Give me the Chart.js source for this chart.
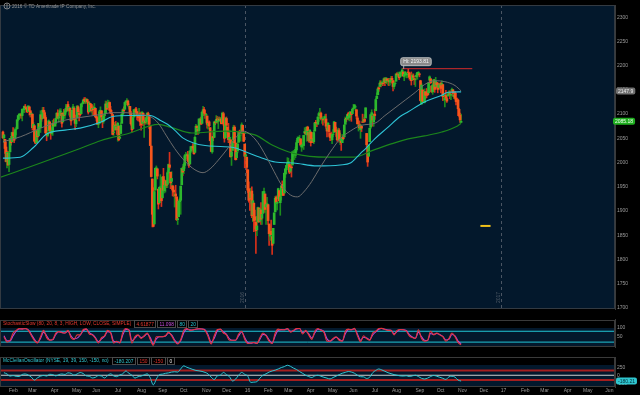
<!DOCTYPE html>
<html><head><meta charset="utf-8">
<script src="https://cdn.jsdelivr.net/npm/chart.js@4.4.0/dist/chart.umd.min.js"></script>
<style>
html,body{margin:0;padding:0;background:#000;width:640px;height:395px;overflow:hidden}
canvas{position:absolute;left:0;display:block}
</style></head><body>
<canvas id="main" width="640" height="314" style="top:0px"></canvas>
<canvas id="stoch" width="640" height="38" style="top:314px"></canvas>
<canvas id="mcc" width="640" height="43" style="top:352px"></canvas>
<script>
// ---------- DATA ----------
// daily bars, bar index 0 = first session of Feb 2015 (first bar shown = Jan 23 2015)
const firstBar = -6;
const opens = [
2063,2051,2048,2032,2002,2019,
1996,2022,2048,2043,2062,2053,2049,2068,2070,2089,2097,2100,2099,2097,2110,2109,2115,2113,2110,
2105,2115,2107,2100,2100,2072,2076,2045,2041,2065,2055,2080,2072,2098,2091,2108,2103,2093,2060,2056,2065,2084,
2067,2060,2064,2081,2076,2081,2091,2102,2092,2097,2105,2102,2084,2102,2098,2105,2113,2120,2108,2112,2105,
2088,2110,2112,2091,2080,2092,2115,2102,2100,2101,2122,2122,2130,2128,2125,2130,2125,2105,2122,2120,
2109,2111,2111,2112,2095,2092,2079,2081,2106,2107,2092,2085,2097,2101,2121,2113,2124,2124,2109,2103,2099,2062,
2067,2078,2073,2069,2075,2050,2060,2081,2100,2109,2110,2124,2127,2127,2115,2116,2102,2079,2070,2094,2108,2111,
2105,2097,2096,2101,2083,2081,2102,2082,2086,2084,2090,2101,2095,2076,2034,1966,1898,1873,1943,1986,1987,
1945,1917,1951,1947,1927,1971,1942,1951,1963,1955,1979,1995,1980,1961,1952,1943,1932,1935,1929,1882,1888,
1919,1922,1954,1986,1983,1994,2014,2015,2016,2003,1997,2024,2031,2033,2034,2021,2058,2075,2069,2066,2088,2090,
2081,2102,2110,2101,2098,2096,2077,2084,2072,2045,2022,2054,2052,2084,2083,2090,2085,2089,2089,2090,
2083,2101,2081,2051,2091,2073,2061,2048,2047,2013,2025,2047,2073,2040,2010,2024,2042,2063,2057,2060,2077,2060,
2038,2013,2011,1985,1946,1926,1927,1941,1892,1916,1888,1877,1861,1877,1906,1879,1902,1885,1895,
1936,1935,1908,1911,1913,1873,1848,1858,1847,1833,1872,1898,1928,1916,1925,1942,1917,1932,1955,1946,
1937,1976,1985,1994,1996,1996,1982,1991,1995,2020,2016,2015,2026,2041,2048,2049,2049,2032,2037,2035,2061,2063,
2057,2073,2062,2045,2063,2045,2050,2043,2065,2083,2083,2079,2097,2101,2102,2091,2089,2090,2092,2090,2071,
2067,2077,2060,2053,2047,2058,2062,2083,2067,2063,2048,2066,2045,2044,2041,2052,2053,2079,2091,2090,2101,
2093,2097,2104,2101,2111,2113,2115,2109,2092,2076,2078,2068,2075,2084,2085,2089,2092,2060,2031,2013,2043,2073,
2099,2096,2084,2100,2107,2132,2140,2154,2157,2165,2162,2164,2166,2173,2166,2173,2169,2170,2166,2169,
2174,2169,2157,2163,2168,2183,2182,2182,2177,2183,2186,2187,2178,2181,2184,2181,2187,2185,2175,2175,2171,2179,2173,
2171,2177,2181,2185,2183,2169,2121,2150,2128,2124,2146,2143,2146,2144,2170,2173,2158,2146,2161,2168,2157,
2165,2163,2155,2158,2164,2160,2161,2138,2130,2139,2132,2138,2140,2142,2139,2149,2150,2136,2144,2133,2129,
2129,2110,2098,2083];
const highs = [
2065,2058,2048,2042,2024,2023,
2022,2050,2054,2063,2072,2057,2071,2073,2089,2097,2101,2101,2102,2111,2111,2117,2120,2115,2112,
2117,2115,2107,2104,2100,2083,2076,2051,2066,2067,2081,2080,2107,2099,2114,2114,2107,2097,2067,2063,2088,2084,
2067,2072,2087,2090,2086,2092,2103,2109,2098,2111,2111,2102,2103,2110,2109,2120,2120,2126,2116,2113,2105,
2108,2120,2115,2098,2092,2118,2117,2105,2111,2121,2124,2131,2134,2134,2132,2131,2125,2126,2122,2120,
2117,2117,2122,2112,2100,2094,2085,2108,2115,2107,2092,2097,2106,2127,2126,2129,2128,2125,2116,2108,2099,2074,
2083,2085,2078,2083,2075,2075,2082,2100,2111,2115,2124,2127,2132,2129,2121,2116,2106,2079,2095,2110,2111,2114,
2105,2102,2112,2104,2083,2105,2102,2090,2094,2093,2103,2104,2095,2076,2034,1966,1948,1943,1989,1993,1987,
1945,1949,1975,1947,1970,1988,1965,1961,1963,1983,1997,2021,1980,1981,1952,1950,1938,1953,1929,1900,1920,
1927,1952,1989,1991,1999,2017,2021,2019,2023,2009,2024,2033,2034,2039,2038,2055,2079,2076,2070,2090,2092,2094,
2105,2116,2114,2108,2101,2096,2083,2086,2072,2045,2053,2066,2084,2086,2097,2095,2094,2094,2093,2093,
2104,2104,2085,2093,2094,2073,2081,2067,2047,2023,2053,2077,2076,2040,2022,2042,2065,2067,2057,2082,2077,2062,
2038,2021,2011,1985,1960,1935,1947,1950,1935,1916,1902,1877,1889,1908,1906,1906,1917,1902,1940,
1947,1935,1918,1928,1913,1873,1869,1881,1847,1864,1896,1930,1931,1919,1947,1942,1933,1952,1962,1957,
1978,1987,1993,2010,2009,1996,1992,2006,2022,2025,2019,2032,2046,2053,2053,2056,2049,2036,2041,2056,2072,2068,
2074,2075,2062,2068,2063,2060,2062,2066,2083,2087,2083,2095,2104,2112,2104,2095,2089,2095,2099,2100,2074,
2083,2077,2060,2063,2058,2068,2085,2083,2073,2067,2071,2070,2061,2044,2058,2056,2079,2094,2092,2100,2104,
2100,2105,2104,2113,2120,2120,2117,2109,2096,2082,2086,2079,2075,2100,2093,2099,2113,2060,2031,2036,2071,2099,
2109,2096,2100,2110,2132,2144,2156,2156,2169,2169,2168,2164,2175,2175,2175,2173,2174,2174,2172,2178,
2178,2170,2164,2169,2183,2186,2187,2183,2188,2186,2194,2187,2183,2188,2185,2185,2193,2186,2179,2187,2183,2183,2174,
2173,2184,2186,2188,2184,2170,2164,2150,2141,2152,2146,2153,2150,2166,2179,2173,2159,2161,2172,2172,2176,
2166,2165,2164,2163,2165,2169,2161,2144,2138,2149,2135,2145,2148,2148,2142,2154,2151,2146,2147,2143,2133,
2131,2112,2102,2100];
const lows = [
2050,2041,2019,2001,1989,1994,
1981,2022,2036,2043,2049,2041,2049,2057,2070,2086,2089,2093,2091,2086,2104,2103,2110,2104,2103,
2105,2098,2094,2095,2067,2071,2044,2039,2041,2042,2055,2067,2062,2085,2091,2104,2091,2061,2045,2053,2065,2067,
2048,2057,2056,2076,2074,2075,2089,2092,2083,2097,2101,2073,2084,2095,2091,2102,2112,2106,2098,2094,2077,
2088,2110,2088,2068,2074,2092,2104,2086,2096,2101,2115,2121,2125,2122,2122,2125,2100,2105,2113,2104,
2099,2098,2109,2093,2086,2079,2072,2081,2106,2093,2072,2081,2087,2101,2109,2113,2119,2108,2102,2097,2057,2056,
2067,2071,2058,2044,2045,2050,2060,2081,2099,2102,2110,2119,2123,2117,2110,2098,2077,2063,2069,2094,2095,2102,
2088,2086,2095,2076,2067,2081,2076,2052,2079,2080,2079,2094,2070,2035,1970,1867,1867,1873,1943,1975,1966,
1904,1917,1945,1909,1927,1941,1937,1939,1948,1948,1977,1986,1946,1951,1931,1930,1908,1926,1880,1872,1888,
1900,1893,1954,1973,1977,1988,2008,2013,2002,1990,1997,2021,2022,2026,2017,2021,2058,2069,2058,2060,2082,2079,
2081,2097,2097,2091,2083,2071,2069,2074,2045,2022,2019,2045,2052,2078,2083,2081,2070,2086,2086,2080,
2083,2077,2042,2051,2071,2052,2041,2044,2011,1994,2025,2041,2041,2005,2006,2020,2042,2059,2044,2060,2061,2043,
1989,2005,1979,1938,1918,1901,1915,1886,1878,1857,1864,1812,1849,1877,1876,1879,1872,1872,1895,
1920,1897,1872,1903,1872,1829,1839,1850,1810,1833,1872,1898,1915,1902,1925,1920,1891,1922,1946,1932,
1937,1969,1977,1990,1989,1977,1979,1970,1995,2012,2006,2010,2022,2041,2043,2045,2034,2023,2030,2027,2058,2058,
2044,2060,2042,2043,2034,2041,2041,2039,2065,2078,2074,2079,2085,2091,2088,2081,2077,2085,2082,2071,2053,
2064,2054,2045,2045,2039,2053,2062,2064,2054,2044,2048,2042,2037,2025,2041,2047,2053,2079,2084,2089,2088,
2086,2088,2085,2101,2110,2112,2107,2090,2079,2065,2070,2050,2064,2083,2083,2083,2092,2032,1992,2013,2043,2070,
2099,2075,2075,2089,2107,2132,2140,2147,2157,2156,2159,2159,2166,2159,2163,2164,2160,2159,2160,2165,
2164,2148,2152,2160,2168,2178,2180,2171,2177,2179,2186,2178,2169,2180,2175,2175,2186,2172,2169,2160,2170,2171,2161,
2157,2173,2172,2179,2177,2127,2120,2125,2124,2123,2132,2134,2138,2140,2170,2163,2145,2141,2151,2145,2157,
2154,2144,2154,2150,2144,2160,2128,2128,2115,2132,2124,2136,2138,2132,2130,2146,2137,2132,2131,2119,2125,
2097,2094,2083,2083];
const closes = [
2051,2057,2029,2002,2021,1995,
2020,2050,2041,2062,2055,2046,2068,2068,2088,2097,2100,2100,2097,2110,2110,2116,2114,2111,2105,
2117,2108,2099,2101,2072,2079,2044,2040,2066,2053,2081,2075,2099,2090,2108,2104,2092,2061,2057,2061,2086,2068,
2060,2066,2081,2076,2082,2091,2102,2092,2095,2107,2105,2081,2100,2097,2107,2112,2117,2108,2114,2106,2086,
2108,2115,2089,2081,2088,2116,2105,2099,2099,2121,2122,2129,2128,2126,2131,2126,2104,2123,2120,2107,
2112,2109,2114,2095,2092,2079,2080,2105,2108,2094,2084,2096,2100,2121,2110,2123,2124,2108,2102,2101,2058,2063,
2077,2077,2068,2081,2047,2052,2077,2100,2109,2107,2124,2127,2128,2119,2115,2102,2080,2068,2093,2109,2109,2104,
2098,2093,2100,2084,2078,2104,2084,2086,2083,2092,2102,2097,2079,2035,1971,1893,1868,1940,1988,1989,1972,
1914,1949,1951,1921,1970,1943,1953,1961,1953,1979,1996,1990,1958,1967,1943,1939,1932,1931,1882,1884,1920,
1923,1951,1988,1980,1996,2014,2015,2017,2004,1994,2024,2033,2033,2030,2018,2052,2075,2072,2066,2090,2089,2079,
2104,2109,2102,2100,2099,2079,2081,2076,2045,2023,2053,2051,2084,2082,2089,2087,2089,2088,2090,2080,
2102,2080,2050,2092,2077,2063,2047,2052,2012,2022,2043,2073,2041,2006,2021,2038,2064,2061,2057,2078,2063,2044,
2013,2016,1990,1943,1922,1924,1939,1890,1921,1880,1881,1859,1869,1907,1878,1904,1883,1893,1940,
1940,1903,1913,1915,1880,1853,1852,1851,1829,1864,1896,1926,1918,1918,1946,1921,1929,1952,1948,1932,
1978,1987,1994,1999,2002,1980,1990,1989,2022,2020,2016,2027,2041,2050,2052,2049,2036,2036,2037,2056,2064,2060,
2073,2066,2045,2067,2041,2048,2042,2062,2082,2082,2081,2094,2101,2102,2091,2092,2088,2091,2095,2075,2065,
2081,2064,2052,2051,2058,2059,2084,2064,2065,2047,2067,2047,2048,2041,2052,2049,2077,2090,2090,2099,2097,
2100,2105,2099,2110,2112,2119,2115,2096,2080,2076,2072,2077,2071,2083,2088,2085,2113,2037,2001,2036,2071,2099,
2103,2088,2100,2097,2130,2137,2152,2152,2164,2162,2166,2163,2173,2165,2175,2169,2169,2167,2170,2174,
2171,2157,2164,2164,2183,2181,2182,2175,2186,2184,2191,2179,2182,2187,2184,2182,2186,2176,2173,2169,2180,2176,2171,
2171,2180,2186,2186,2182,2128,2160,2127,2126,2147,2139,2139,2140,2164,2177,2165,2146,2160,2171,2151,2168,
2161,2151,2160,2161,2153,2163,2136,2139,2132,2133,2127,2140,2144,2141,2141,2151,2143,2139,2133,2126,2126,
2111,2097,2088,2085];

// moving averages (bar index, value)
const sma50Bars = [-6,11,31,50,70,90,102,114,129,139,147,155,163,173,183,191,198,206,216,223,230,237,245,253,261,269,277,284,290,298,306,316,326,336,347,360,370,380,390,400,409,419,429,439,445];
const sma50Vals = [2043,2053,2071,2085,2093,2099,2103,2103,2099,2095,2081,2055,2029,2003,1985,1979,1987,2005,2031,2051,2065,2059,2041,2013,1981,1951,1933,1929,1939,1961,1989,2021,2049,2065,2077,2081,2097,2113,2129,2145,2161,2169,2167,2159,2148];
const sma100Bars = [-6,11,24,37,55,70,90,102,119,139,149,156,163,171,181,193,208,221,234,247,262,280,303,326,336,346,352,360,372,385,393,409,426,432,445];
const sma100Vals = [2009,2011,2031,2059,2067,2071,2083,2095,2097,2097,2087,2079,2067,2051,2041,2035,2033,2031,2021,2011,2001,1999,1993,1995,1999,2019,2031,2049,2071,2095,2105,2125,2139,2145,2146];
const sma200Bars = [-9,31,70,90,119,147,159,180,213,242,260,280,313,339,358,377,393,409,426,441,445];
const sma200Vals = [1969,1999,2029,2045,2061,2079,2073,2061,2065,2057,2035,2019,2011,2011,2025,2039,2049,2055,2063,2075,2081];

const hiValue = 2193.81, hiBar = 387, hiEndBar = 456;
const lastClose = 2085.18, sma50Last = 2147.9;
const markerBars = [464, 474], markerValue = 1869;

const priceTicks = [1700,1750,1800,1850,1900,1950,2000,2050,2100,2150,2200,2250,2300];
const monthLabels = ['Feb','Mar','Apr','May','Jun','Jul','Aug','Sep','Oct','Nov','Dec','16','Feb','Mar','Apr','May','Jun','Jul','Aug','Sep','Oct','Nov','Dec','17','Feb','Mar','Apr','May','Jun'];
const monthStartBars = [0,19,41,62,82,104,126,147,168,190,210,232,251,271,293,314,335,357,377,400,421,442,463,484,504,523,546,565,587];
const yearStartBars = [232, 484];
const yearLabels = ['2016', '2017'];

// oscillators sampled every 3 bars starting at bar -5
const oscFirstBar = -5, oscStep = 3;
const stochK = [
50,20,30,70,85,95,92,95,85,55,
28,15,50,85,45,30,35,70,78,72,
70,85,45,35,60,60,90,93,65,60,
40,15,45,55,85,70,15,25,15,75,
95,85,15,50,60,40,55,70,35,3,
50,50,50,55,75,55,25,10,35,85,
95,85,88,92,94,92,85,50,10,55,
90,92,70,60,30,30,30,65,80,35,
12,15,18,12,45,70,55,25,12,70,
92,88,88,95,75,85,95,95,65,85,
60,35,80,95,85,75,25,25,40,50,
30,25,80,92,88,96,55,22,55,40,
30,70,80,95,96,90,85,85,60,85,
90,88,82,55,45,40,88,40,25,30,
80,60,70,60,50,25,40,70,50,18,
4.62];
const stochD = [
55,28,27,55,80,92,93,94,88,62,
35,18,40,75,55,32,33,62,77,74,
70,80,55,38,42,58,82,92,72,62,
45,22,38,52,78,74,25,22,18,60,
90,88,28,42,58,45,52,66,45,10,
38,50,50,54,70,60,32,14,28,72,
92,88,87,91,93,92,87,60,20,42,
82,91,76,63,38,30,30,55,76,45,
18,14,17,14,36,63,58,32,15,55,
86,89,88,93,80,83,92,95,72,80,
66,42,70,91,88,78,38,25,36,47,
36,26,66,89,89,94,64,30,47,43,
33,60,77,91,95,91,87,85,66,78,
88,88,84,62,48,41,75,50,30,29,
68,63,68,62,52,32,36,62,54,26,
11.1];
const mcclellan = [
80,40,-27,-10,-35,-40,25,40,5,-60,
-152,-80,-30,-5,-25,30,20,-20,20,40,
25,75,60,5,40,85,55,-20,-30,-85,
-65,-10,-25,-85,-10,45,-20,-45,10,45,
134,60,0,-89,-45,-27,10,45,-80,-300,
-120,20,35,60,75,100,110,100,200,295,
250,215,180,150,138,120,90,40,-60,-134,
-20,0,89,20,-45,-179,-120,0,89,30,
-30,-224,-215,-200,-89,0,45,100,134,160,
197,241,270,313,280,224,180,116,60,0,
-40,-72,-20,0,-30,-63,-90,-116,-70,-27,
20,63,90,116,100,63,0,-45,-50,-100,
-60,80,150,197,165,125,80,50,20,0,
-20,-25,-15,-40,-20,0,-40,-95,-116,-90,
-40,-5,-30,-63,-95,-130,-50,-30,-60,-150,
-180.21];
const stochLevels = [80, 20], stochTicks = [50, 100];
const stochLast = '4.61877', stochDLast = '11.098';
const mcLevels = [150, -150], mcTicks = [-250, 0, 250];
const mcLast = -180.207;

// ---------- STYLE / HELPERS ----------
const FONT = '"Liberation Sans", Arial, sans-serif';
const NAVY = '#03182c';
const AXIS_W = 25;
const X_MIN = -8.9, X_MAX = 596.5;

function roundRect(ctx, x, y, w, h, r) {
  ctx.beginPath();
  ctx.moveTo(x + r, y);
  ctx.arcTo(x + w, y, x + w, y + h, r);
  ctx.arcTo(x + w, y + h, x, y + h, r);
  ctx.arcTo(x, y + h, x, y, r);
  ctx.arcTo(x, y, x + w, y, r);
  ctx.closePath();
}
function tag(ctx, x, y, text, fill, color) {
  ctx.save();
  ctx.font = `5px ${FONT}`;
  const w = ctx.measureText(text).width + 4, h = 7;
  roundRect(ctx, x, y - h / 2, w, h, 2);
  ctx.fillStyle = fill; ctx.fill();
  ctx.fillStyle = color; ctx.textBaseline = 'middle'; ctx.textAlign = 'left';
  ctx.fillText(text, x + 2, y + 0.3);
  ctx.restore();
}
function yAxis(min, max, ticks) {
  return {
    position: 'right', min, max, bounds: 'data', beginAtZero: false,
    afterFit(s) { s.width = AXIS_W; },
    afterBuildTicks(s) { s.ticks = ticks.map(v => ({ value: v })); },
    ticks: { color: '#9c9c9c', font: { family: FONT, size: 5 }, padding: 2, autoSkip: false, callback: v => String(v) },
    grid: { display: false, drawTicks: false },
    border: { display: true, color: '#3a3a3a' }
  };
}
const xHidden = { type: 'linear', min: X_MIN, max: X_MAX, bounds: 'data', offset: false, display: false };
const base = {
  responsive: false, animation: false, devicePixelRatio: 1, events: [],
  layout: { padding: 0 },
  plugins: { legend: { display: false }, tooltip: { enabled: false } }
};
function pts(bars, vals) { return bars.map((b, i) => ({ x: b, y: vals[i] })); }
function oscPts(vals) { return vals.map((v, i) => ({ x: oscFirstBar + i * oscStep, y: v })); }
function lineDs(data, color, width, order) {
  return { type: 'line', data, borderColor: color, borderWidth: width, pointRadius: 0,
           cubicInterpolationMode: 'monotone', order: order || 1 };
}

// ---------- MAIN PRICE CHART ----------
const bars = closes.map((c, i) => firstBar + i);
const isUp = closes.map((c, i) => c >= opens[i]);

const mainDecor = {
  id: 'mainDecor',
  beforeDraw(chart) {
    const { ctx, chartArea: a, width, height } = chart;
    ctx.save();
    ctx.fillStyle = '#000'; ctx.fillRect(0, 0, width, height);
    ctx.fillStyle = NAVY; ctx.fillRect(a.left, a.top, a.right - a.left, a.bottom - a.top);
    ctx.restore();
  },
  beforeDatasetsDraw(chart) {
    const { ctx, chartArea: a, scales: { x } } = chart;
    yearStartBars.forEach((b, i) => {
      const px = Math.round(x.getPixelForValue(b)) + 0.5;
      ctx.save();
      ctx.strokeStyle = '#4a5563'; ctx.lineWidth = 1; ctx.setLineDash([3, 3]);
      ctx.beginPath(); ctx.moveTo(px, a.top); ctx.lineTo(px, a.bottom); ctx.stroke();
      ctx.setLineDash([]);
      ctx.translate(px - 3, a.bottom - 6); ctx.rotate(-Math.PI / 2);
      ctx.fillStyle = '#4f5a66'; ctx.font = `5px ${FONT}`; ctx.textAlign = 'left'; ctx.textBaseline = 'middle';
      ctx.fillText(yearLabels[i], 0, 0);
      ctx.restore();
    });
  },
  afterDraw(chart) {
    const { ctx, chartArea: a, scales: { x, y } } = chart;
    ctx.save();
    // panel border
    ctx.strokeStyle = '#333a42'; ctx.lineWidth = 1;
    ctx.strokeRect(a.left + 0.5, a.top + 0.5, a.right - a.left - 1, a.bottom - a.top - 1);
    // copyright
    ctx.strokeStyle = '#9a9a9a'; ctx.lineWidth = 0.8;
    ctx.beginPath(); ctx.arc(7, 6, 3, 0, Math.PI * 2); ctx.stroke();
    ctx.beginPath(); ctx.moveTo(7, 3.5); ctx.lineTo(7, 8.5); ctx.stroke();
    ctx.fillStyle = '#9a9a9a'; ctx.font = `4.7px ${FONT}`; ctx.textBaseline = 'middle'; ctx.textAlign = 'left';
    ctx.fillText('2016 \u00a9 TD Ameritrade IP Company, Inc.', 12, 6.3);
    // Hi label
    const hx = x.getPixelForValue(hiBar), hy = y.getPixelForValue(hiValue);
    const txt = 'Hi: ' + hiValue.toFixed(2);
    ctx.font = `5px ${FONT}`;
    const w = ctx.measureText(txt).width + 5, h = 8;
    const bx = hx - 1.5, by = hy - 3 - h;
    roundRect(ctx, bx, by, w, h, 2);
    ctx.fillStyle = '#8a8a8a'; ctx.fill();
    ctx.strokeStyle = '#cfcfcf'; ctx.lineWidth = 0.8; ctx.stroke();
    ctx.beginPath(); ctx.moveTo(hx + 1.5, by + h); ctx.lineTo(hx + 1.5, hy); ctx.stroke();
    ctx.fillStyle = '#f4f4f4'; ctx.fillText(txt, bx + 2.5, by + h / 2 + 0.3);
    ctx.restore();
    // axis tags
    tag(ctx, a.right + 1, y.getPixelForValue(sma50Last), String(sma50Last), '#707070', '#ececec');
    tag(ctx, a.right - 2, y.getPixelForValue(lastClose), lastClose.toFixed(2), '#1fae1f', '#f2fff2');
  }
};

new Chart(document.getElementById('main'), {
  type: 'bar',
  data: {
    datasets: [
      lineDs(pts(sma50Bars, sma50Vals), '#6c6c6c', 1, 1),
      lineDs(pts(sma100Bars, sma100Vals), '#2ec4d6', 1.1, 1),
      lineDs(pts(sma200Bars, sma200Vals), '#1c861c', 1.2, 1),
      { type: 'line', data: [{ x: hiBar, y: hiValue }, { x: hiEndBar, y: hiValue }], borderColor: '#d62a2a', borderWidth: 1, pointRadius: 0, order: 0 },
      { type: 'line', data: markerBars.map(b => ({ x: b, y: markerValue })), borderColor: '#f2c21a', borderWidth: 2, pointRadius: 0, order: 0 },
      { type: 'bar', data: bars.map((b, i) => ({ x: b, y: [lows[i], highs[i]] })),
        backgroundColor: isUp.map(u => u ? '#1c8c1c' : '#d8301a'), barThickness: 1, grouped: false, borderWidth: 0, order: 3 },
      { type: 'bar', data: bars.map((b, i) => ({ x: b, y: [opens[i], closes[i]] })),
        backgroundColor: isUp.map(u => u ? '#2db82d' : '#f5561c'), barThickness: 2, grouped: false, borderWidth: 0, order: 2 }
    ]
  },
  options: Object.assign({}, base, {
    scales: { x: xHidden, y: yAxis(1697.4, 2325.4, priceTicks) }
  }),
  plugins: [mainDecor]
});

// ---------- SUB PANELS ----------
function subDecor(cfg) {
  return {
    id: 'subDecor',
    beforeDraw(chart) {
      const { ctx, chartArea: a, width, height } = chart;
      ctx.save();
      ctx.fillStyle = '#000'; ctx.fillRect(0, 0, width, height);
      ctx.fillStyle = NAVY; ctx.fillRect(a.left, a.top, a.right - a.left, a.bottom - a.top);
      ctx.fillStyle = '#000'; ctx.fillRect(a.left, a.top, a.right - a.left, cfg.band);
      ctx.restore();
    },
    beforeDatasetsDraw(chart) {
      const { ctx, chartArea: a, scales: { y } } = chart;
      ctx.save();
      cfg.levels.forEach(l => {
        const py = y.getPixelForValue(l.v);
        ctx.strokeStyle = l.c; ctx.lineWidth = l.w;
        ctx.beginPath(); ctx.moveTo(a.left, py); ctx.lineTo(a.right, py); ctx.stroke();
      });
      ctx.restore();
    },
    afterDraw(chart) {
      const { ctx, chartArea: a, scales: { y } } = chart;
      ctx.save();
      ctx.strokeStyle = '#3a3a3a'; ctx.lineWidth = 1;
      ctx.strokeRect(a.left + 0.5, a.top + cfg.top + 0.5, a.right - a.left - 1, a.bottom - a.top - cfg.top - 1);
      ctx.font = `4.8px ${FONT}`; ctx.textBaseline = 'middle'; ctx.textAlign = 'left';
      const hy = a.top + cfg.headY;
      ctx.fillStyle = cfg.titleColor; ctx.fillText(cfg.title, 3, hy);
      let cx = 3 + ctx.measureText(cfg.title).width + 3;
      cfg.items.forEach(([t, c]) => {
        const w = Math.round(ctx.measureText(t).width + 4);
        ctx.strokeStyle = '#4a4a4a'; ctx.lineWidth = 1;
        ctx.strokeRect(Math.round(cx) + 0.5, hy - 3.5, w, 7);
        ctx.fillStyle = c; ctx.fillText(t, Math.round(cx) + 2.5, hy + 0.3);
        cx += w + 2;
      });
      ctx.restore();
      if (cfg.tag) tag(ctx, a.right + 1, y.getPixelForValue(cfg.tag.v), cfg.tag.t, cfg.tag.fill, cfg.tag.color);
    }
  };
}

new Chart(document.getElementById('stoch'), {
  type: 'line',
  data: {
    datasets: [
      lineDs(oscPts(stochD), '#b648d8', 1.1, 2),
      lineDs(oscPts(stochK), '#e4343a', 1.1, 1)
    ]
  },
  options: Object.assign({}, base, {
    scales: { x: xHidden, y: yAxis(-6.9, 147.6, stochTicks) }
  }),
  plugins: [subDecor({
    band: 9, top: 1, headY: 5,
    levels: stochLevels.map(v => ({ v, c: '#22c6d6', w: 1 })),
    title: 'StochasticSlow (80, 20, 8, 3, HIGH, LOW, CLOSE, SIMPLE)', titleColor: '#e5382e',
    items: [[stochLast, '#e5382e'], [stochDLast, '#c94fe0'], [String(stochLevels[0]), '#22c6d6'], [String(stochLevels[1]), '#22c6d6']]
  })]
});

new Chart(document.getElementById('mcc'), {
  type: 'line',
  data: { datasets: [ lineDs(oscPts(mcclellan), '#2fc6d0', 1, 1) ] },
  options: Object.assign({}, base, {
    scales: {
      x: {
        type: 'linear', min: X_MIN, max: X_MAX, bounds: 'data', offset: false, position: 'bottom',
        afterFit(s) { s.height = 8; },
        afterBuildTicks(s) { s.ticks = monthStartBars.map(v => ({ value: v })); },
        ticks: { color: '#9c9c9c', font: { family: FONT, size: 5 }, padding: 1, align: 'start',
                 autoSkip: false, maxRotation: 0, minRotation: 0, callback: (v, i) => monthLabels[i] },
        grid: { display: false, drawTicks: false },
        border: { display: false }
      },
      y: yAxis(-367, 571, mcTicks)
    }
  }),
  plugins: [subDecor({
    band: 8, top: 0, headY: 4,
    levels: [{ v: mcLevels[0], c: '#a51e1e', w: 2 }, { v: mcLevels[1], c: '#a51e1e', w: 2 }, { v: 0, c: '#cfcfcf', w: 1 }],
    title: 'McClellanOscillator (NYSE, 19, 39, 150, -150, no)', titleColor: '#2fc6d0',
    items: [[String(mcLast), '#2fc6d0'], [String(mcLevels[0]), '#e0302a'], [String(mcLevels[1]), '#e0302a'], ['0', '#e8e8e8']],
    tag: { v: mcLast, t: mcLast.toFixed(2), fill: '#2fc6d0', color: '#02303a' }
  })]
});
</script>
</body></html>
